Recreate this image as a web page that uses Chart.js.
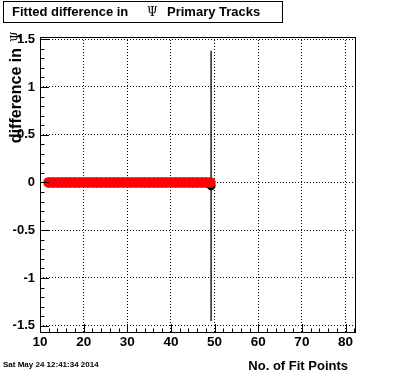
<!DOCTYPE html>
<html>
<head>
<meta charset="utf-8">
<script src="https://cdn.jsdelivr.net/npm/chart.js@4.4.1/dist/chart.umd.min.js"></script>
<style>
  body { margin: 0; background: #fff; }
</style>
</head>
<body>
<canvas id="myChart" width="396" height="372"></canvas>
<script>
// red points: fitted difference per number of fit points
const fitPoints = [12, 13, 14, 15, 16, 17, 18, 19, 20, 21, 22, 23, 24, 25, 26, 27, 28, 29, 30,
  31, 32, 33, 34, 35, 36, 37, 38, 39, 40, 41, 42, 43, 44, 45, 46, 47, 48, 49];
const diffValues = [0, 0, 0, 0, 0, 0, 0, 0, 0, 0, 0, 0, 0, 0, 0, 0, 0, 0, 0,
  0, 0, 0, 0, 0, 0, 0, 0, 0, 0, 0, 0, 0, 0, 0, 0, 0, 0, 0];
// black point with its error bar
const blackX = [49.2];
const blackY = [-0.035];
const blackErr = [1.415];

const xTicks = [10, 20, 30, 40, 50, 60, 70, 80];
const yTicks = [-1.5, -1, -0.5, 0, 0.5, 1, 1.5];

const FONT = "'Liberation Sans', Arial, Helvetica, sans-serif";
const ctx = document.getElementById("myChart");

const rootStyle = {
  id: "rootStyle",
  beforeDatasetsDraw(chart) {
    const c = chart.ctx;
    const { x, y } = chart.scales;
    c.save();
    c.strokeStyle = "#000";
    c.lineWidth = 1.3;
    for (let i = 0; i < blackX.length; i++) {
      const xp = x.getPixelForValue(blackX[i]);
      c.beginPath();
      c.moveTo(xp, y.getPixelForValue(blackY[i] + blackErr[i]));
      c.lineTo(xp, y.getPixelForValue(blackY[i] - blackErr[i]));
      c.stroke();
    }
    c.restore();
  },
  afterDraw(chart) {
    const c = chart.ctx;
    const a = chart.chartArea;
    const { x, y } = chart.scales;
    c.save();
    c.strokeStyle = "#000";
    c.lineWidth = 1;
    // frame
    c.strokeRect(Math.round(a.left) + 0.5, Math.round(a.top) + 0.5,
      Math.round(a.right - a.left) - 1, Math.round(a.bottom - a.top) - 1);
    // ticks on y (inside)
    c.beginPath();
    for (let v = -15; v <= 15; v++) {
      const yp = Math.round(y.getPixelForValue(v / 10)) + 0.5;
      const len = v % 5 === 0 ? 9 : 4.5;
      c.moveTo(a.left, yp);
      c.lineTo(a.left + len, yp);
    }
    // ticks on x (inside)
    for (let v = 10; v <= 82; v += 2) {
      const xp = Math.round(x.getPixelForValue(v)) + 0.5;
      const len = v % 10 === 0 ? 9 : 4.5;
      c.moveTo(xp, a.bottom);
      c.lineTo(xp, a.bottom - len);
    }
    c.stroke();

    // title box
    c.strokeRect(3.5, 1.5, 279, 21);
    c.fillStyle = "#000";
    c.textBaseline = "alphabetic";
    c.textAlign = "left";
    c.font = "bold 13px " + FONT;
    c.fillText("Fitted difference in", 12, 16);
    c.fillText("Primary Tracks", 167, 16);
    c.font = "12px 'DejaVu Serif', 'Liberation Serif', serif";
    c.fillText("\u03A8", 147, 16);

    // y axis title
    c.save();
    c.translate(21, 0);
    c.rotate(-Math.PI / 2);
    c.textAlign = "right";
    c.font = "bold 16px " + FONT;
    c.fillText("difference in", -48, 0);
    c.textAlign = "left";
    c.font = "12px 'DejaVu Serif', 'Liberation Serif', serif";
    c.fillText("\u03A8", -42, -1);
    c.restore();

    // x axis title
    c.textAlign = "right";
    c.font = "bold 13px " + FONT;
    c.fillText("No. of Fit Points", 348, 370);

    // date stamp
    c.textAlign = "left";
    c.font = "bold 8px " + FONT;
    c.fillText("Sat May 24 12:41:34 2014", 3, 367);
    c.restore();
  }
};

new Chart(ctx, {
  type: "scatter",
  data: {
    datasets: [
      {
        data: fitPoints.map((v, i) => ({ x: v, y: diffValues[i] })),
        backgroundColor: "#ff0000",
        borderWidth: 0,
        pointRadius: 5.5,
        pointHoverRadius: 5.5,
      },
      {
        data: blackX.map((v, i) => ({ x: v, y: blackY[i] })),
        backgroundColor: "#000000",
        borderWidth: 0,
        pointRadius: 4.5,
        pointHoverRadius: 4.5,
      },
    ],
  },
  options: {
    responsive: false,
    animation: false,
    events: [],
    layout: { padding: { top: 37, right: 40, left: 0, bottom: 0 } },
    plugins: {
      legend: { display: false },
      tooltip: { enabled: false },
    },
    scales: {
      x: {
        type: "linear",
        min: 10,
        max: 82.4,
        afterBuildTicks: (s) => { s.ticks = xTicks.map((v) => ({ value: v })); },
        afterFit: (s) => { s.height = 39; },
        border: { display: false, dash: [1, 2] },
        grid: { color: "#000", drawTicks: false, lineWidth: 1 },
        ticks: {
          color: "#000",
          padding: 1,
          maxRotation: 0,
          font: { family: FONT, size: 13.5, weight: "bold" },
          callback: (v) => String(v),
        },
      },
      y: {
        type: "linear",
        min: -1.576,
        max: 1.523,
        afterBuildTicks: (s) => { s.ticks = yTicks.map((v) => ({ value: v })); },
        afterFit: (s) => { s.width = 40; },
        border: { display: false, dash: [1, 2] },
        grid: { color: "#000", drawTicks: false, lineWidth: 1 },
        ticks: {
          color: "#000",
          padding: 5,
          font: { family: FONT, size: 13, weight: "bold" },
          callback: (v) => String(v),
        },
      },
    },
  },
  plugins: [rootStyle],
});
</script>
</body>
</html>
